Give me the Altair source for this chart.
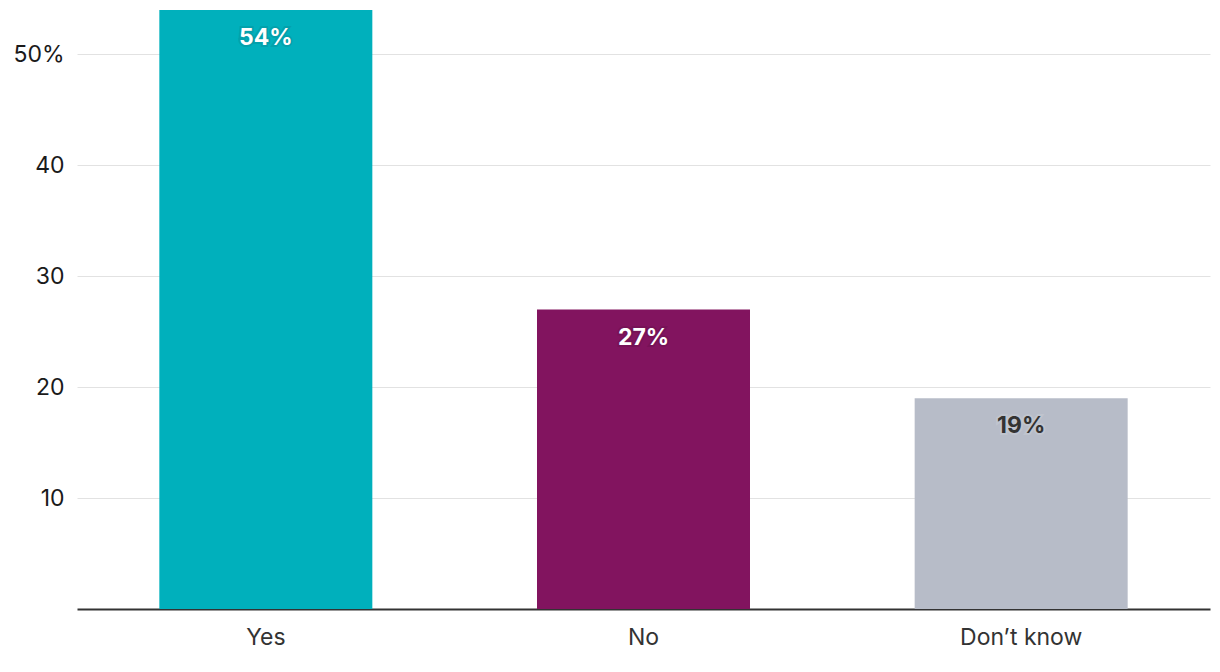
import altair as alt
import pandas as pd

categories = ["Yes", "No", "Don\u2019t know"]
values = [54, 27, 19]
colors = ["#00b0bc", "#82145f", "#b7bcc8"]
label_colors = ["#ffffff", "#ffffff", "#333333"]
halo_colors = ["#1a3a40", "#2a0a20", "#ffffff"]

df = pd.DataFrame({
    "cat": categories,
    "val": values,
    "color": colors,
    "lc": label_colors,
    "hc": halo_colors,
    "lab": [f"{v}%" for v in values],
})

FONT = "Inter"

x = alt.X("cat:N", sort=categories,
          scale=alt.Scale(paddingInner=0.436, paddingOuter=0.218),
          axis=alt.Axis(title=None, labelAngle=0, ticks=False, domain=True,
                        domainColor="#333333", domainWidth=2,
                        labelFontSize=23, labelColor="#333333", labelFont=FONT,
                        labelPadding=17))
y = alt.Y("val:Q", scale=alt.Scale(domain=[0, 54], nice=False),
          axis=alt.Axis(title=None, values=[10, 20, 30, 40, 50], ticks=False, domain=False,
                        grid=True, gridColor="#e2e2e2", gridWidth=1,
                        labelFontSize=23, labelColor="#1a1a1a", labelFont=FONT,
                        labelPadding=13,
                        labelExpr="datum.value == 50 ? '50%' : datum.label"))

base = alt.Chart(df)

bars = base.mark_bar().encode(
    x=x, y=y,
    color=alt.Color("color:N", scale=None),
)

halo = base.mark_text(baseline="middle", dy=28, fontSize=23, fontWeight="bold", font=FONT,
                      strokeWidth=4, strokeOpacity=0.35, opacity=0.35).encode(
    x=alt.X("cat:N", sort=categories), y="val:Q", text="lab:N",
    stroke=alt.Stroke("hc:N", scale=None), color=alt.Color("hc:N", scale=None),
)

labels = base.mark_text(baseline="middle", dy=28, fontSize=23, fontWeight="bold", font=FONT).encode(
    x=alt.X("cat:N", sort=categories), y="val:Q", text="lab:N",
    color=alt.Color("lc:N", scale=None),
)

chart = alt.layer(bars, halo, labels).properties(
    width=1133, height=599,
    background="#ffffff",
    autosize=alt.AutoSizeParams(type="none"),
    padding={"left": 69, "top": 2, "right": 1, "bottom": 45},
).configure_view(stroke=None)

chart.save("out.html", embed_options={"renderer": "svg", "actions": False})
